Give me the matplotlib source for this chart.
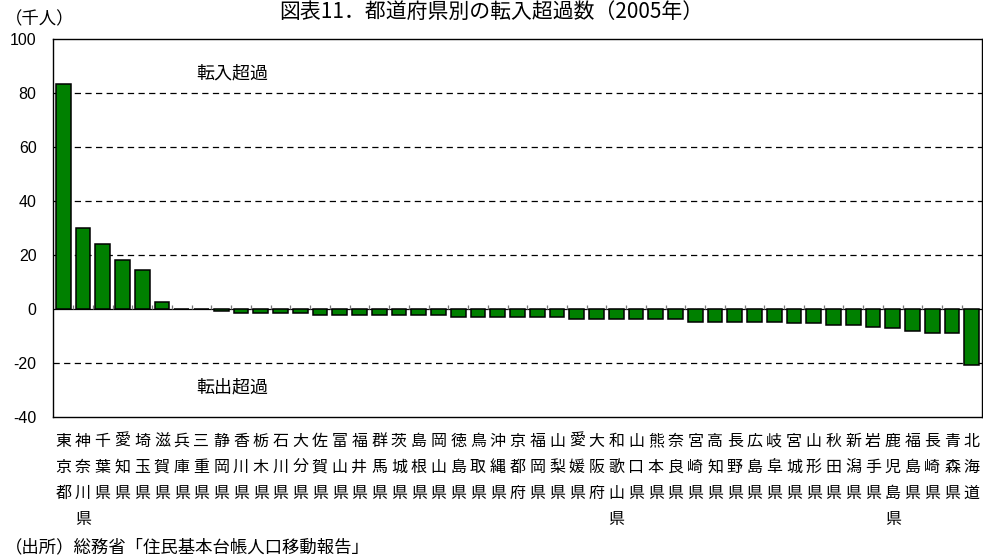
import matplotlib.pyplot as plt
import numpy as np

plt.rcParams['font.family'] = ['Noto Sans CJK JP', 'DejaVu Sans']

# 都道府県別の転入超過数（千人）
prefectures = [
    '東京都', '神奈川県', '千葉県', '愛知県', '埼玉県', '滋賀県', '兵庫県', '三重県',
    '静岡県', '香川県', '栃木県', '石川県', '大分県', '佐賀県', '富山県', '福井県',
    '群馬県', '茨城県', '島根県', '岡山県', '徳島県', '鳥取県', '沖縄県', '京都府',
    '福岡県', '山梨県', '愛媛県', '大阪府', '和歌山県', '山口県', '熊本県', '奈良県',
    '宮崎県', '高知県', '長野県', '広島県', '岐阜県', '宮城県', '山形県', '秋田県',
    '新潟県', '岩手県', '鹿児島県', '福島県', '長崎県', '青森県', '北海道',
]
net_migration = [
    83.4, 30.0, 24.2, 18.3, 14.6, 2.6, 0.0, 0.0,
    -0.7, -1.5, -1.5, -1.5, -1.5, -2.1, -2.1, -2.1,
    -2.1, -2.1, -2.1, -2.1, -3.0, -3.0, -3.0, -3.0,
    -3.0, -3.0, -3.7, -3.7, -3.7, -3.7, -3.7, -3.5,
    -4.6, -4.6, -4.6, -4.6, -4.6, -4.9, -4.9, -5.7,
    -5.7, -6.4, -7.1, -8.0, -8.6, -8.6, -20.5,
]
y_ticks = [-40, -20, 0, 20, 40, 60, 80, 100]

fig = plt.figure(figsize=(9.83, 5.59), dpi=100)
ax = fig.add_axes([0.0542, 0.2535, 0.9445, 0.6762])

x = np.arange(len(prefectures))
ax.bar(x, net_migration, width=0.75, color='#008000', edgecolor='black',
       linewidth=1.1, zorder=3)

ax.set_xlim(-0.5, len(prefectures) - 0.5)
ax.set_ylim(-40, 100)

# 破線のグリッド（0 は実線）
for v in y_ticks:
    if v in (-40, 0, 100):
        continue
    ax.axhline(v, color='black', linewidth=0.9, linestyle=(0, (5, 3.5)), zorder=1)
ax.axhline(0, color='black', linewidth=0.9, zorder=2)

# 0 の線上の区切り目盛り
bounds = np.arange(len(prefectures) + 1) - 0.5
ax.vlines(bounds[1:-1], 0, 1.5, color='#777777', linewidth=0.9, zorder=2)

ax.set_yticks(y_ticks)
ax.set_yticklabels([str(v) for v in y_ticks], family='Liberation Sans', fontsize=11.5)
ax.tick_params(axis='y', length=0, pad=12)

ax.set_xticks(x)
ax.set_xticklabels(['\n'.join(p) for p in prefectures], fontsize=11.5,
                   linespacing=1.7, va='top')
ax.tick_params(axis='x', length=0, pad=11)

for s in ax.spines.values():
    s.set_linewidth(1.0)
    s.set_color('black')

ax.text(8.55, 87.5, '転入超過', fontsize=13, ha='center', va='center')
ax.text(8.55, -29.1, '転出超過', fontsize=13, ha='center', va='center')

fig.text(0.5, 0.999, '図表11．都道府県別の転入超過数（2005年）', fontsize=15,
         ha='center', va='top')
fig.text(0.005, 0.965, '（千人）', fontsize=12.5, ha='left', va='center')
fig.text(0.005, 0.02, '（出所）総務省「住民基本台帳人口移動報告」', fontsize=12.5,
         ha='left', va='center')

plt.savefig('out.png', dpi=100)
